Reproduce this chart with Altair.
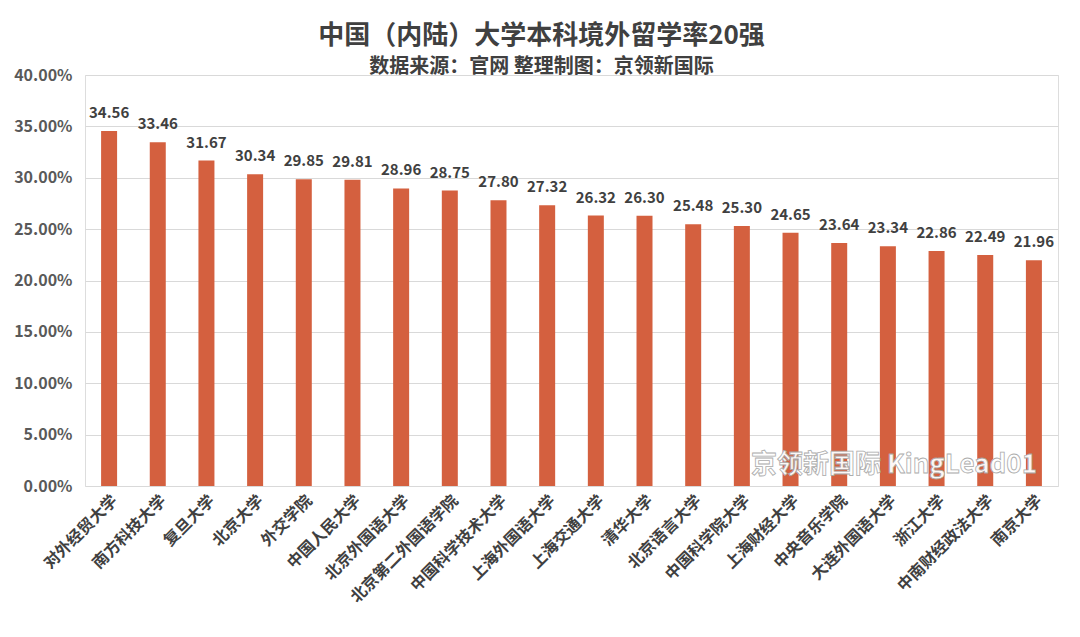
import altair as alt
import pandas as pd

schools = ["对外经贸大学", "南方科技大学", "复旦大学", "北京大学", "外交学院", "中国人民大学",
           "北京外国语大学", "北京第二外国语学院", "中国科学技术大学", "上海外国语大学",
           "上海交通大学", "清华大学", "北京语言大学", "中国科学院大学", "上海财经大学",
           "中央音乐学院", "大连外国语大学", "浙江大学", "中南财经政法大学", "南京大学"]
rates = [34.56, 33.46, 31.67, 30.34, 29.85, 29.81, 28.96, 28.75, 27.80, 27.32,
         26.32, 26.30, 25.48, 25.30, 24.65, 23.64, 23.34, 22.86, 22.49, 21.96]
labels = ["34.56", "33.46", "31.67", "30.34", "29.85", "29.81", "28.96", "28.75", "27.80", "27.32",
          "26.32", "26.30", "25.48", "25.30", "24.65", "23.64", "23.34", "22.86", "22.49", "21.96"]
y_ticks = [0, 0.05, 0.10, 0.15, 0.20, 0.25, 0.30, 0.35, 0.40]

df = pd.DataFrame({"school": schools, "rate": [r / 100 for r in rates], "label": labels})

FONT = "Noto Sans CJK SC"

x = alt.X("school:N", sort=schools, title=None,
          scale=alt.Scale(paddingInner=0.67, paddingOuter=0.33),
          axis=alt.Axis(labelAngle=-45, labelFontSize=16, labelFontWeight="bold",
                        labelColor="#404040", labelFont=FONT, ticks=False, domain=False,
                        labelPadding=6, grid=False, labelLimit=300))
y = alt.Y("rate:Q", title=None,
          scale=alt.Scale(domain=[0, 0.40], nice=False),
          axis=alt.Axis(values=y_ticks, format=".2%", labelFontSize=16, labelFontWeight="bold",
                        labelColor="#595959", labelFont=FONT, ticks=False, domain=False,
                        labelPadding=13, gridColor="#D9D9D9", gridWidth=1))

bars = alt.Chart(df).mark_bar(size=16, color="#D4603F").encode(x=x, y=y)

text = alt.Chart(df).mark_text(baseline="bottom", dy=-10, fontSize=15, fontWeight="bold",
                               color="#404040", font=FONT).encode(
    x=alt.X("school:N", sort=schools), y="rate:Q", text="label:N")

wm_df = pd.DataFrame({"t": ["京领新国际 KingLead01"]})
watermark = alt.Chart(wm_df).mark_text(align="right", baseline="middle", fontSize=26,
                                       fontWeight="bold", font=FONT, color="#FFFFFF",
                                       stroke="#A8A8A8", strokeWidth=0.8, opacity=0.95).encode(
    x=alt.value(952), y=alt.value(390), text="t:N")

chart = alt.layer(bars, text, watermark).properties(
    width=973, height=411,
    autosize=alt.AutoSizeParams(type="none"),
    padding={"left": 77, "top": 67, "right": 14, "bottom": 143},
    title=alt.TitleParams(
        text="中国（内陆）大学本科境外留学率20强",
        subtitle="数据来源：官网 整理制图：京领新国际",
        anchor="middle", dx=-30, font=FONT, fontSize=26, fontWeight="bold", color="#404040",
        subtitleFont=FONT, subtitleFontSize=20, subtitleFontWeight="bold",
        subtitleColor="#404040", subtitlePadding=8, offset=-10)
).configure_view(stroke=None).configure(background="white")

chart.save("out.html", embed_options={"renderer": "svg", "actions": False})
